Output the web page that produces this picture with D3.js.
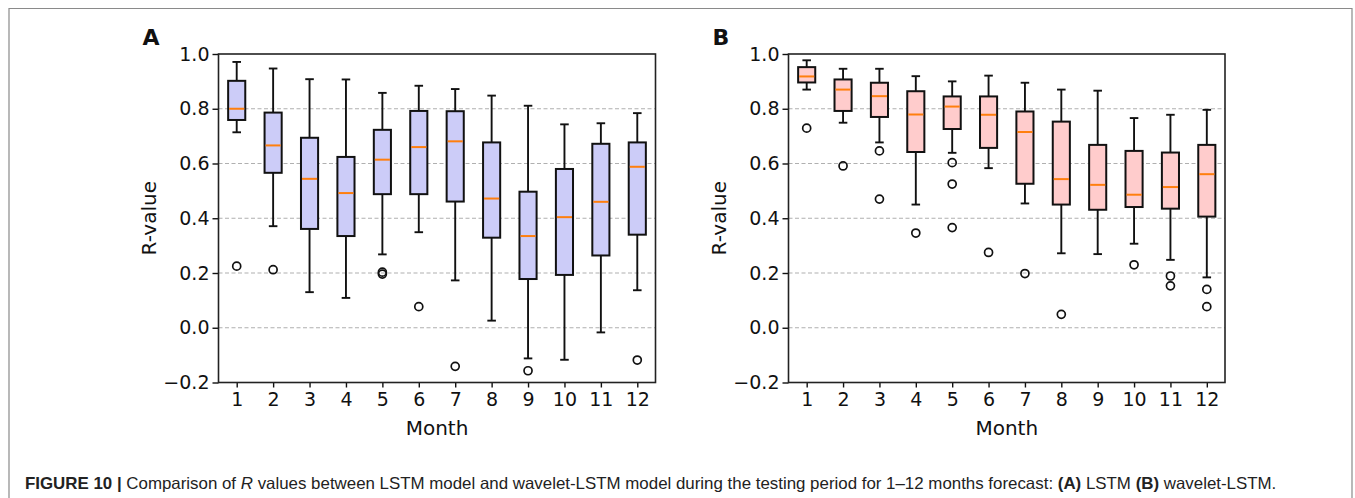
<!DOCTYPE html>
<html>
<head>
<meta charset="utf-8">
<script src="https://cdn.jsdelivr.net/npm/d3@7"></script>
<style>
  body { margin: 0; background: #fff; }
  text { font-family: "DejaVu Sans", sans-serif; }
</style>
</head>
<body>
<div id="chart"></div>
<script>
// months on the x axis
const months = [1, 2, 3, 4, 5, 6, 7, 8, 9, 10, 11, 12]
const yTicks = [-0.2, 0.0, 0.2, 0.4, 0.6, 0.8, 1.0]
const gridVals = [0.0, 0.2, 0.4, 0.6, 0.8]

// (A) LSTM - box stats
const lstmLow = [0.714, 0.371, 0.130, 0.109, 0.268, 0.349, 0.173, 0.026, -0.112, -0.117, -0.017, 0.137]
const lstmQ1 = [0.759, 0.566, 0.361, 0.335, 0.488, 0.488, 0.461, 0.329, 0.178, 0.193, 0.264, 0.340]
const lstmMed = [0.800, 0.666, 0.544, 0.492, 0.614, 0.660, 0.681, 0.472, 0.335, 0.404, 0.460, 0.588]
const lstmQ3 = [0.902, 0.786, 0.694, 0.624, 0.723, 0.792, 0.791, 0.677, 0.497, 0.580, 0.672, 0.677]
const lstmHigh = [0.971, 0.947, 0.908, 0.907, 0.858, 0.884, 0.872, 0.848, 0.811, 0.743, 0.747, 0.784]
const lstmOut = [[0.225], [0.212], [], [], [0.196, 0.203], [0.077], [-0.141], [], [-0.157], [], [], [-0.118]]

// (B) wavelet-LSTM
const wlLow = [0.870, 0.749, 0.677, 0.450, 0.639, 0.583, 0.454, 0.272, 0.269, 0.307, 0.248, 0.184]
const wlQ1 = [0.896, 0.792, 0.770, 0.642, 0.726, 0.657, 0.526, 0.450, 0.431, 0.441, 0.435, 0.406]
const wlMed = [0.918, 0.870, 0.846, 0.779, 0.808, 0.778, 0.715, 0.543, 0.522, 0.486, 0.514, 0.561]
const wlQ3 = [0.952, 0.907, 0.895, 0.864, 0.845, 0.845, 0.790, 0.753, 0.668, 0.646, 0.640, 0.668]
const wlHigh = [0.977, 0.946, 0.946, 0.919, 0.900, 0.921, 0.895, 0.870, 0.866, 0.766, 0.778, 0.796]
const wlOut = [[0.729], [0.591], [0.646, 0.470], [0.346], [0.603, 0.525, 0.366], [0.275], [0.198], [0.049], [], [0.230], [0.189, 0.153], [0.140, 0.077]]

// caption pieces (text, weight, style)
const captionParts = [
  ["FIGURE 10 |", "bold", "normal"],
  ["Comparison of", "normal", "normal"],
  ["R", "normal", "italic"],
  ["values between LSTM model and wavelet-LSTM model during the testing period for 1–12 months forecast:", "normal", "normal"],
  ["(A)", "bold", "normal"],
  ["LSTM", "normal", "normal"],
  ["(B)", "bold", "normal"],
  ["wavelet-LSTM.", "normal", "normal"]
]

const W = 1355, H = 498

const svg = d3.select("#chart")
  .append("svg")
    .attr("width", W)
    .attr("height", H)

// figure frame (open at the bottom)
svg.append("path")
  .attr("d", `M9,${H} L9,8.5 L1352,8.5 L1352,${H}`)
  .attr("fill", "none")
  .attr("stroke", "#8a8a8a")
  .attr("stroke-width", 1.2)

const plotTop = 54, plotBottom = 382.5

function drawPanel(left, right, letter, fill, low, q1, med, q3, high, outl) {
  const x = d3.scaleLinear().domain([0.5, 12.5]).range([left, right])
  const y = d3.scaleLinear().domain([-0.2, 1.0]).range([plotBottom, plotTop])
  const g = svg.append("g")

  // dashed grid
  g.selectAll(".grid")
    .data(gridVals)
    .join("line")
      .attr("x1", left).attr("x2", right)
      .attr("y1", d => y(d)).attr("y2", d => y(d))
      .attr("stroke", "#b0b0b0")
      .attr("stroke-width", 1.1)
      .attr("stroke-dasharray", "4,2.5")

  const bw = x(1.47) - x(1)   // box width
  const cw = bw / 2           // cap width

  const rows = months.map((m, i) => ({ m, lo: low[i], q1: q1[i], md: med[i], q3: q3[i], hi: high[i], out: outl[i] }))
  const box = g.selectAll(".box").data(rows).join("g")

  // whiskers
  box.append("line")
    .attr("x1", d => x(d.m)).attr("x2", d => x(d.m))
    .attr("y1", d => y(d.hi)).attr("y2", d => y(d.q3))
    .attr("stroke", "#111").attr("stroke-width", 1.9)
  box.append("line")
    .attr("x1", d => x(d.m)).attr("x2", d => x(d.m))
    .attr("y1", d => y(d.lo)).attr("y2", d => y(d.q1))
    .attr("stroke", "#111").attr("stroke-width", 1.9)
  // caps
  box.append("line")
    .attr("x1", d => x(d.m) - cw / 2).attr("x2", d => x(d.m) + cw / 2)
    .attr("y1", d => y(d.hi)).attr("y2", d => y(d.hi))
    .attr("stroke", "#111").attr("stroke-width", 1.9)
  box.append("line")
    .attr("x1", d => x(d.m) - cw / 2).attr("x2", d => x(d.m) + cw / 2)
    .attr("y1", d => y(d.lo)).attr("y2", d => y(d.lo))
    .attr("stroke", "#111").attr("stroke-width", 1.9)
  // box
  box.append("rect")
    .attr("x", d => x(d.m) - bw / 2)
    .attr("width", bw)
    .attr("y", d => y(d.q3))
    .attr("height", d => y(d.q1) - y(d.q3))
    .attr("fill", fill)
    .attr("stroke", "#111")
    .attr("stroke-width", 2)
  // median
  box.append("line")
    .attr("x1", d => x(d.m) - bw / 2 + 1).attr("x2", d => x(d.m) + bw / 2 - 1)
    .attr("y1", d => y(d.md)).attr("y2", d => y(d.md))
    .attr("stroke", "#ff7f0e").attr("stroke-width", 2)
  // fliers
  box.selectAll("circle")
    .data(d => d.out.map(v => ({ m: d.m, v })))
    .join("circle")
      .attr("cx", d => x(d.m))
      .attr("cy", d => y(d.v))
      .attr("r", 4)
      .attr("fill", "none")
      .attr("stroke", "#111")
      .attr("stroke-width", 1.7)

  // axes
  const yAxis = d3.axisLeft(y).tickValues(yTicks).tickFormat(d3.format(".1f")).tickSize(6).tickPadding(3)
  const xAxis = d3.axisBottom(x).tickValues(months).tickSize(5).tickPadding(5)

  const ya = g.append("g").attr("transform", `translate(${left},0)`).call(yAxis)
  const xa = g.append("g").attr("transform", `translate(0,${plotBottom})`).call(xAxis)
  for (const a of [ya, xa]) {
    a.select(".domain").remove()
    a.selectAll("line").attr("stroke", "#111").attr("stroke-width", 1.4)
    a.selectAll("text").attr("fill", "#111").style("font-size", "19px").style("font-family", "DejaVu Sans, sans-serif")
  }

  // spines
  g.append("rect")
    .attr("x", left).attr("y", plotTop)
    .attr("width", right - left).attr("height", plotBottom - plotTop)
    .attr("fill", "none")
    .attr("stroke", "#222")
    .attr("stroke-width", 1.6)

  // labels
  g.append("text")
    .attr("transform", `translate(${left - 63},${(plotTop + plotBottom) / 2}) rotate(-90)`)
    .attr("text-anchor", "middle")
    .style("font-size", "20px")
    .attr("fill", "#111")
    .text("R-value")
  g.append("text")
    .attr("x", (left + right) / 2)
    .attr("y", 435)
    .attr("text-anchor", "middle")
    .style("font-size", "20px")
    .attr("fill", "#111")
    .text("Month")
  g.append("text")
    .attr("x", left - 76)
    .attr("y", 45)
    .style("font-size", "22px")
    .style("font-weight", "bold")
    .attr("fill", "#111")
    .text(letter)
}

drawPanel(218.5, 655.5, "A", "#ccccf8", lstmLow, lstmQ1, lstmMed, lstmQ3, lstmHigh, lstmOut)
drawPanel(788.5, 1225, "B", "#ffcccc", wlLow, wlQ1, wlMed, wlQ3, wlHigh, wlOut)

// caption: separate words groups, font size chosen so the line spans the reference width
const capLeft = 25, capRight = 1278
const capG = svg.append("g")
const pieces = capG.selectAll("text")
  .data(captionParts)
  .join("text")
    .attr("y", 489)
    .style("font-family", "Liberation Sans, Arial, sans-serif")
    .style("font-size", "17px")
    .style("font-weight", d => d[1])
    .style("font-style", d => d[2])
    .attr("fill", "#222")
    .text(d => d[0])
const gap0 = 17 * 0.278
const total0 = d3.sum(pieces.nodes(), n => n.getComputedTextLength()) + gap0 * (captionParts.length - 1)
const fs = 17 * (capRight - capLeft) / total0
pieces.style("font-size", fs + "px")
const gap = fs * 0.278
let cx = capLeft
pieces.each(function() {
  d3.select(this).attr("x", cx)
  cx += this.getComputedTextLength() + gap
})
</script>
</body>
</html>
